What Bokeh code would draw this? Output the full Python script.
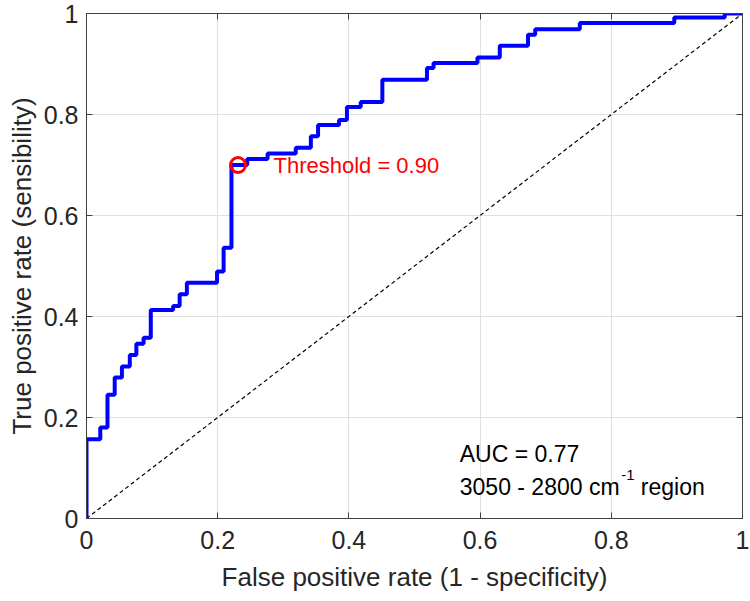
from bokeh.plotting import figure
from bokeh.models import LinearAxis, Range1d, Label, FixedTicker
from bokeh.embed import file_html
from bokeh.resources import INLINE

# ROC curve vertices: (false positive rate at the rise, true positive rate after the rise)
fpr = [0.0, 0.0, 0.021, 0.032, 0.043, 0.054, 0.066, 0.076, 0.087, 0.098,
       0.132, 0.142, 0.153, 0.199, 0.209, 0.221, 0.245, 0.276, 0.319, 0.342,
       0.353, 0.385, 0.397, 0.418, 0.451, 0.519, 0.529, 0.596, 0.630, 0.673,
       0.684, 0.752, 0.896, 0.973, 1.0]
tpr = [0.0, 0.157, 0.180, 0.245, 0.279, 0.301, 0.324, 0.346, 0.358, 0.413,
       0.421, 0.444, 0.467, 0.489, 0.536, 0.700, 0.712, 0.723, 0.734, 0.757,
       0.779, 0.789, 0.815, 0.825, 0.869, 0.892, 0.902, 0.913, 0.936, 0.958,
       0.969, 0.981, 0.992, 1.0, 1.0]

chance_x = [0.0, 1.0]
chance_y = [0.0, 1.0]

threshold_fpr = [0.231]
threshold_tpr = [0.700]
threshold_text = "Threshold = 0.90"
auc_text = "AUC = 0.77"

ticks = [0, 0.2, 0.4, 0.6, 0.8, 1]
tick_labels = {0: "0", 0.2: "0.2", 0.4: "0.4", 0.6: "0.6", 0.8: "0.8", 1: "1"}
blank_labels = {t: "" for t in ticks}

FONT = "Liberation Sans"
AX_COLOR = "#404040"
TXT_COLOR = "#262626"

p = figure(width=750, height=601, output_backend="svg", toolbar_location=None,
           x_range=Range1d(0, 1), y_range=Range1d(0, 1),
           min_border_left=86, min_border_right=8, min_border_top=13,
           min_border_bottom=83)
p.outline_line_color = AX_COLOR
p.outline_line_width = 1
p.background_fill_color = "white"
p.border_fill_color = "white"

for ax in (p.xaxis[0], p.yaxis[0]):
    ax.ticker = FixedTicker(ticks=ticks)
    ax.major_label_overrides = tick_labels
    ax.major_tick_in = 6
    ax.major_tick_out = 0
    ax.minor_tick_in = 0
    ax.minor_tick_out = 0
    ax.axis_line_color = AX_COLOR
    ax.major_tick_line_color = AX_COLOR
    ax.major_label_text_font = FONT
    ax.major_label_text_font_size = "25px"
    ax.major_label_text_color = TXT_COLOR
    ax.axis_label_text_font = FONT
    ax.axis_label_text_font_size = "26px"
    ax.axis_label_text_font_style = "normal"
    ax.axis_label_text_color = TXT_COLOR

p.xaxis[0].axis_label = "False positive rate (1 - specificity)"
p.yaxis[0].axis_label = "True positive rate (sensibility)"
p.xaxis[0].major_label_standoff = 12
p.yaxis[0].major_label_standoff = 8
p.xaxis[0].axis_label_standoff = 10
p.yaxis[0].axis_label_standoff = 4

for loc in ("above", "right"):
    a = LinearAxis(ticker=FixedTicker(ticks=ticks))
    a.major_label_overrides = blank_labels
    a.major_label_text_font_size = "1px"
    a.major_label_standoff = 0
    a.major_tick_in = 6
    a.major_tick_out = 0
    a.minor_tick_in = 0
    a.minor_tick_out = 0
    a.axis_line_color = AX_COLOR
    a.major_tick_line_color = AX_COLOR
    p.add_layout(a, loc)

p.xgrid.ticker = FixedTicker(ticks=ticks)
p.ygrid.ticker = FixedTicker(ticks=ticks)
p.grid.grid_line_color = "#e0e0e0"
p.grid.grid_line_width = 1

p.line(chance_x, chance_y, line_color="black", line_width=1.2, line_dash="4 3")
p.step(fpr, tpr, mode="after", line_color="#0000ff", line_width=4)
p.scatter(threshold_fpr, threshold_tpr, marker="circle", size=15,
          fill_color=None, line_color="#ff0000", line_width=3)

p.add_layout(Label(x=0.285, y=0.700, text=threshold_text, text_color="#ff0000",
                   text_font=FONT, text_font_size="22px", text_baseline="middle"))
p.add_layout(Label(x=0.569, y=0.128, text=auc_text, text_color="#000000",
                   text_font=FONT, text_font_size="23px", text_baseline="alphabetic"))
p.add_layout(Label(x=0.569, y=0.063, text="3050 - 2800 cm", text_color="#000000",
                   text_font=FONT, text_font_size="23px", text_baseline="alphabetic"))
p.add_layout(Label(x=0.815, y=0.086, text="-1", text_color="#000000",
                   text_font=FONT, text_font_size="15px", text_baseline="alphabetic"))
p.add_layout(Label(x=0.845, y=0.063, text="region", text_color="#000000",
                   text_font=FONT, text_font_size="23px", text_baseline="alphabetic"))

open("out.html", "w").write(file_html(p, INLINE))
